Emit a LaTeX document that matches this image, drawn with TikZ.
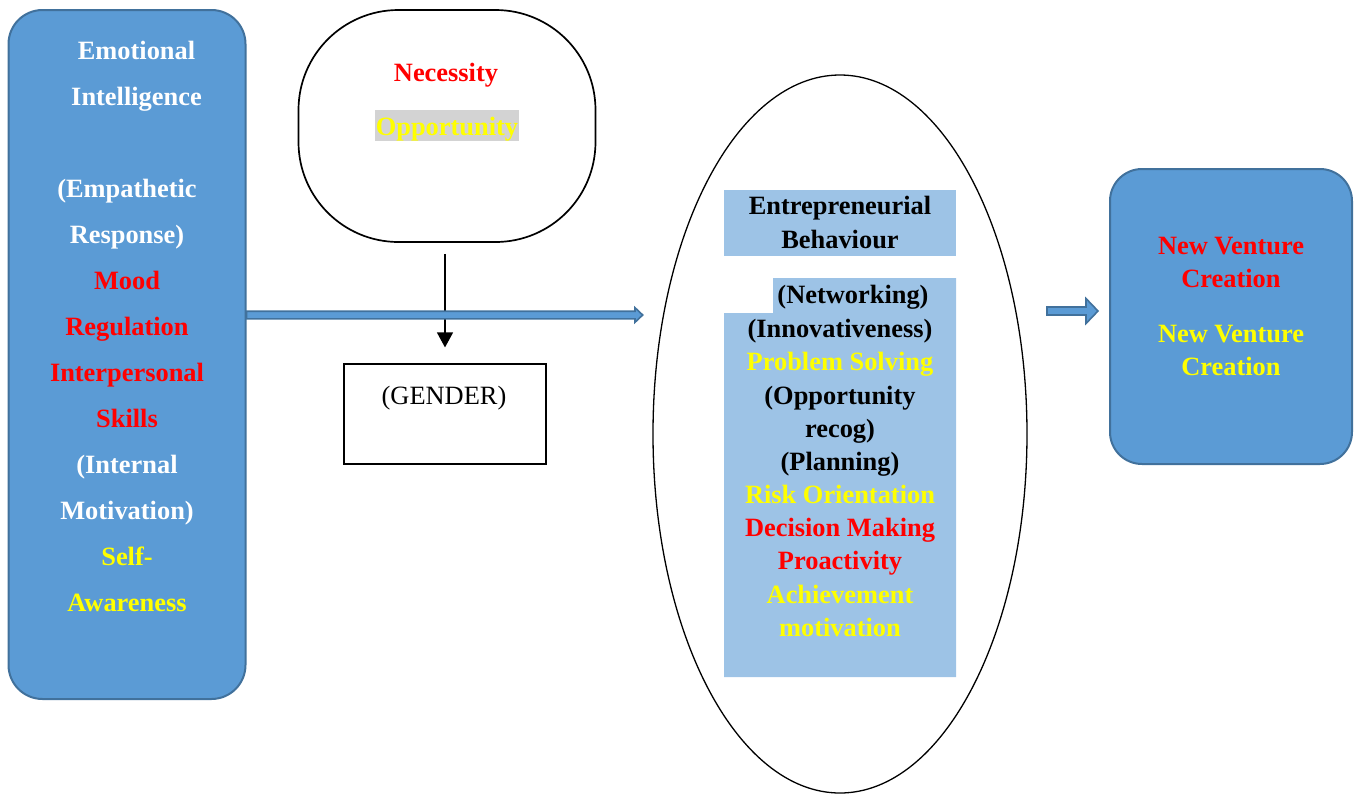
\documentclass[tikz,border=0pt]{standalone}
\usepackage{fontspec}
\setmainfont{Liberation Serif}
\usetikzlibrary{shapes.geometric,arrows.meta,calc}
\definecolor{eiblue}{HTML}{5B9BD5}
\definecolor{eiedge}{HTML}{41719C}
\definecolor{ebblue}{HTML}{9DC3E6}
\definecolor{ebred}{HTML}{FF0000}
\definecolor{ebyellow}{HTML}{FFFF00}
\definecolor{oppgray}{HTML}{D3D3D3}
\begin{document}
\begin{tikzpicture}[x=0.5pt,y=-0.5pt,
  lbl/.style={font=\fontsize{13.2}{16}\selectfont\bfseries, inner sep=0pt, anchor=base},
  bluebox/.style={draw=eiedge, fill=eiblue, line width=1pt, rounded corners=17pt},
  blockarrow/.style={draw=eiedge, fill=eiblue, line width=0.8pt}]
\useasboundingbox (0,0) rectangle (1357,794);
% shapes
\node[bluebox, minimum width=118.5pt, minimum height=344.5pt] (ei) at (127,354.5) {};
\node[bluebox, rounded corners=16pt, minimum width=121pt, minimum height=147.5pt] (nvc) at (1231,316.5) {};
\node[draw, line width=0.85pt, rounded corners=50pt, minimum width=148.5pt, minimum height=116pt] (motive) at (447,126) {};
\node[draw, line width=0.6pt, minimum width=101pt, minimum height=50pt] (gender) at (445,414) {};
\node[draw, ellipse, line width=0.65pt, minimum width=187pt, minimum height=359pt] (eb) at (840,434) {};
\fill[ebblue] (724,190) rectangle (956,256);
\fill[ebblue] (773,278) -- (956,278) -- (956,677) -- (724,677) -- (724,313) -- (773,313) -- cycle;
% emotional intelligence
\foreach \n/\x/\y/\t/\c in {1/136.5/59/Emotional/white, 2/136.5/105/Intelligence/white,
  3/127/197/(Empathetic/white, 4/127/243/Response)/white, 5/127/289/Mood/ebred,
  6/127/335/Regulation/ebred, 7/127/381/Interpersonal/ebred, 8/127/427/Skills/ebred,
  9/127/473/(Internal/white, 10/127/519/Motivation)/white, 11/127/565/Self-/ebyellow,
  12/127/611/Awareness/ebyellow}
  \node[lbl, text=\c] (ei-\n) at (\x,\y) {\t};
% motives and gender
\node[lbl, text=ebred] (nec) at (446,81.3) {Necessity};
\node[lbl, text=ebyellow, fill=oppgray, text height=12.85pt, text depth=2.5pt, inner xsep=0.5pt] (opp) at (447,135.7) {Opportunity};
\node[lbl, font=\fontsize{13.2}{16}\selectfont] (gen) at (444,404) {(GENDER)};
% entrepreneurial behaviour
\node[lbl] (eb-1) at (840,214) {Entrepreneurial};
\node[lbl] (eb-2) at (840,248) {Behaviour};
\foreach \n/\x/\y/\t/\c in {3/853/303.5/(Networking)/black, 4/840/337/(Innovativeness)/black,
  5/840/370.5/Problem Solving/ebyellow, 6/840/404/(Opportunity/black, 7/840/437/recog)/black,
  8/840/470/(Planning)/black, 9/840/503.5/Risk Orientation/ebyellow,
  10/840/536.5/Decision Making/ebred, 11/840/569.5/Proactivity/ebred,
  12/840/603/Achievement/ebyellow, 13/840/636/motivation/ebyellow}
  \node[lbl, text=\c] (eb-\n) at (\x,\y) {\t};
% new venture creation
\node[lbl, text=ebred] (nvc-1) at (1231,254) {New Venture};
\node[lbl, text=ebred] (nvc-2) at (1231,287) {Creation};
\node[lbl, text=ebyellow] (nvc-3) at (1231,342) {New Venture};
\node[lbl, text=ebyellow] (nvc-4) at (1231,375) {Creation};
% arrows
\draw[line width=0.65pt, -{Triangle[width=8pt,length=7.5pt]}, shorten <=5.5pt, shorten >=8pt]
  (gender.north |- motive.south) -- (gender.north);
\coordinate (eb-tip) at (642.7,315);
\draw[blockarrow] ($(ei.east |- eb-tip)+(0,-3.8)$) -- ($(eb-tip)+(-7.7,-3.8)$) -- ($(eb-tip)+(-7.7,-7.3)$)
  -- (eb-tip) -- ($(eb-tip)+(-7.7,7.3)$) -- ($(eb-tip)+(-7.7,3.8)$) -- ($(ei.east |- eb-tip)+(0,3.8)$) -- cycle;
\coordinate (nvc-tip) at (1098,311);
\coordinate (nvc-tail) at (1047,311);
\draw[blockarrow] ($(nvc-tail)+(0,-4)$) -- ($(nvc-tip)+(-12,-4)$) -- ($(nvc-tip)+(-12,-12.5)$)
  -- (nvc-tip) -- ($(nvc-tip)+(-12,12.5)$) -- ($(nvc-tip)+(-12,4)$) -- ($(nvc-tail)+(0,4)$) -- cycle;
\end{tikzpicture}
\end{document}
